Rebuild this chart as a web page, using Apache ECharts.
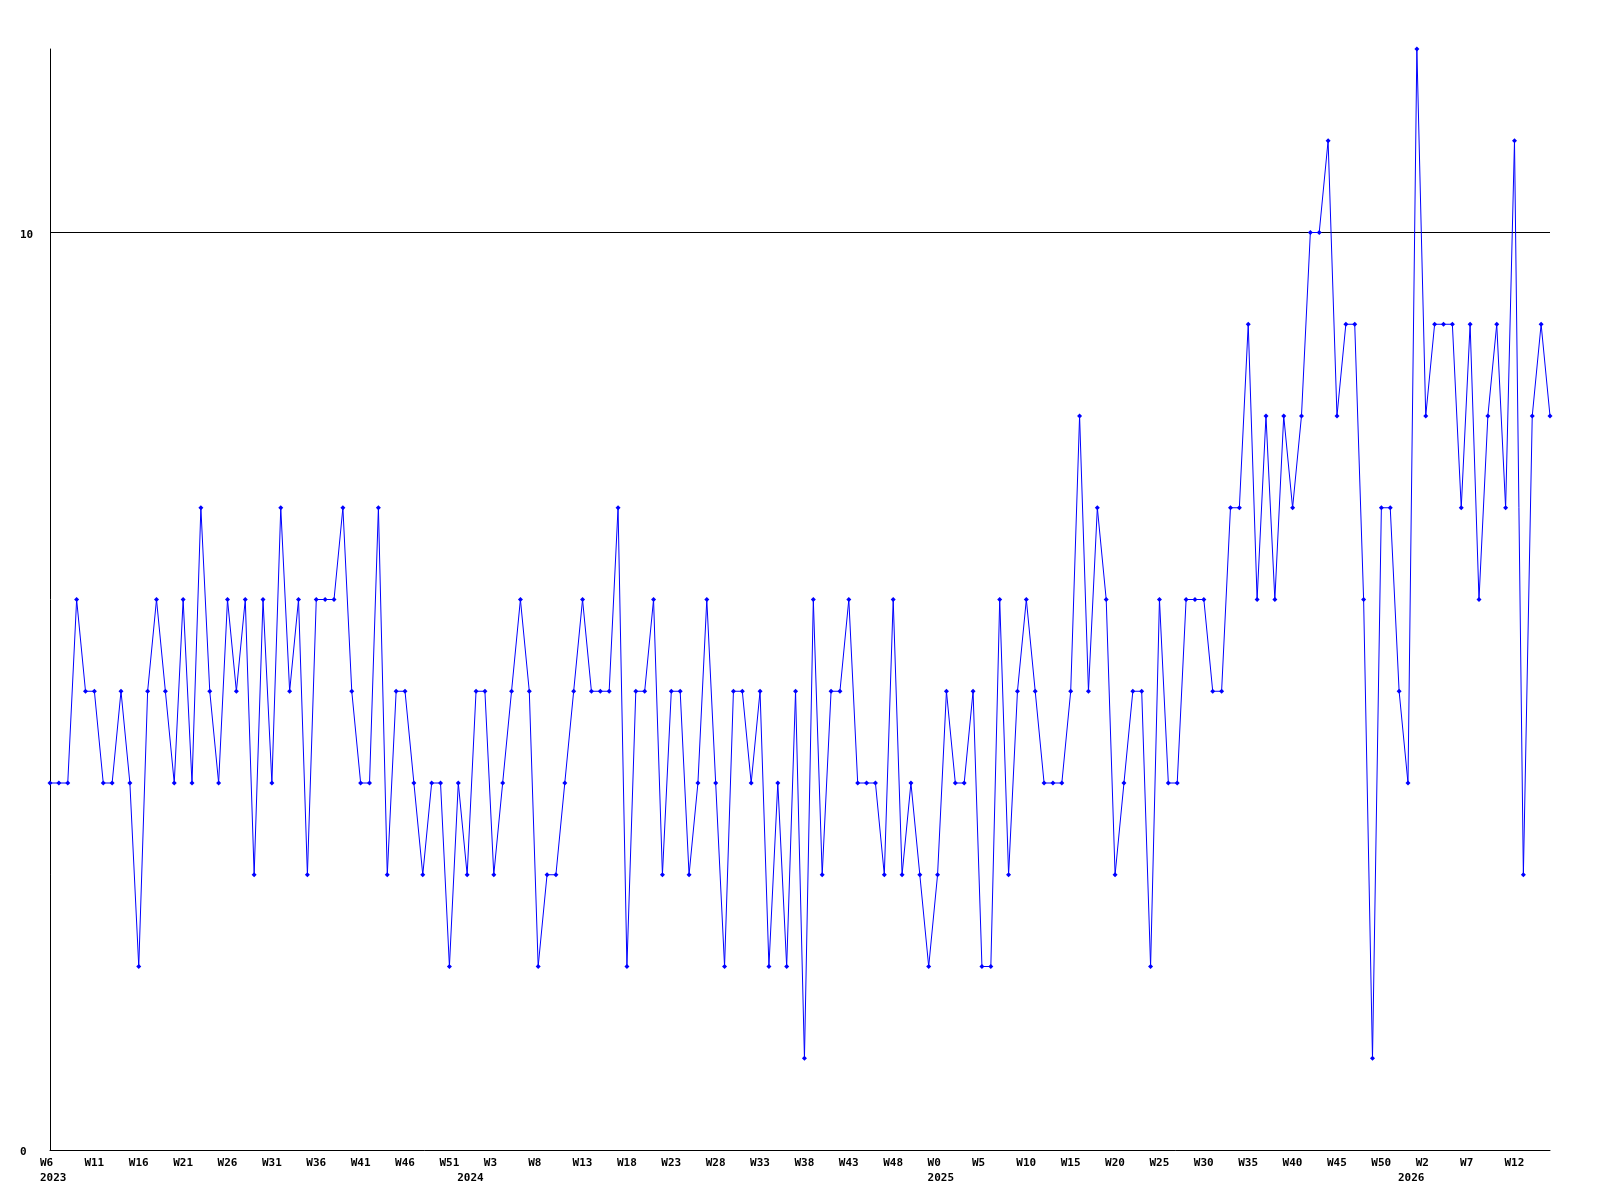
<!DOCTYPE html>
<html><head><meta charset="utf-8">
<script src="https://cdn.jsdelivr.net/npm/echarts@6/dist/echarts.min.js"></script>
<style>html,body{margin:0;padding:0;background:#fff}#c{width:1600px;height:1200px}</style>
</head><body><div id="c"></div>
<script>
// Week ranges per year (category labels)
const years = [2023, 2024, 2025, 2026];
const firstWeek = [6, 0, 0, 0];
const lastWeek = [52, 52, 52, 16];

// Weekly values
const values2023a = [4,4,4,6,5,5,4,4,5,4,2,5,6,5,4,6,4,7,5,4,6,5,6];
const values2023b = [3,6,4,7,5,6,3,6,6,6,7,5,4,4,7,3,5,5,4,3,4,4];
const valuesC = [2,4,3,5,5,3,4,5,6,5,2,3,3,4,5,6,5,5,5,7,2,5];
const valuesD = [5,6,3,5,5,3,4,6,4,2,5,5,4,5,2,4,2,5,1,6,3,5];
const valuesE = [5,6,4,4,4,3,6,3,4,3,2,3,5,4,4,5,2,2,6,3,5,6];
const valuesF = [5,4,4,4,5,8,5,7,6,3,4,5,5,2,6,4,4,6,6,6,5];
const valuesG = [5,7,7,9,6,8,6,8,7,8,10,10,11,8,9,9,6,1,7,7,5,4,12];
const valuesH = [8,9,9,9,7,9,6,8,9,7,11,3,8,9,8];
const values = [].concat(values2023a, values2023b, valuesC, valuesD, valuesE, valuesF, valuesG, valuesH);

const categories = [];
const yearStart = {};
years.forEach((y, i) => {
  for (let w = firstWeek[i]; w <= lastWeek[i]; w++) {
    if (w === firstWeek[i]) yearStart[categories.length] = y;
    categories.push(y + '-W' + w);
  }
});

const font = {fontFamily: 'DejaVu Sans Mono', fontWeight: 'bold', fontSize: 11, color: '#000'};
const chart = echarts.init(document.getElementById('c'));
chart.setOption({
  animation: false,
  grid: [
    {left: 50, top: 49, width: 1500, height: 1101},
    {left: 40, top: 49, width: 1500, height: 1101}
  ],
  xAxis: [
    {type: 'category', data: categories, boundaryGap: false,
     axisLine: {lineStyle: {color: '#000', width: 1}}, axisTick: {show: false},
     axisLabel: {show: false}, splitLine: {show: false}},
    {type: 'category', gridIndex: 1, data: categories, boundaryGap: false,
     axisLine: {show: false}, axisTick: {show: false}, splitLine: {show: false},
     axisLabel: Object.assign({}, font, {
       align: 'left', verticalAlign: 'top', margin: 6, lineHeight: 15,
       interval: (i) => i % 5 === 0 || yearStart[i] !== undefined,
       formatter: (v, i) => {
         const wk = (i % 5 === 0) ? v.split('-')[1] : '';
         return yearStart[i] !== undefined ? wk + '\n' + yearStart[i] : wk;
       }
     })}
  ],
  yAxis: [
    {type: 'value', min: 0, max: 12, interval: 10,
     axisLine: {show: true, lineStyle: {color: '#000', width: 1}}, axisTick: {show: false},
     axisLabel: Object.assign({}, font, {
       align: 'left', margin: 30, showMaxLabel: false,
       formatter: (v) => '{a|' + v + '}',
       rich: {a: Object.assign({}, font, {padding: [5, 0, 0, 0]})}
     }),
     splitLine: {show: true, showMinLine: false, showMaxLine: false, lineStyle: {color: '#000', width: 1}}},
    {type: 'value', gridIndex: 1, show: false, min: 0, max: 1}
  ],
  series: [{
    type: 'line', data: values, xAxisIndex: 0, yAxisIndex: 0,
    symbol: 'diamond', symbolSize: 5, showAllSymbol: true,
    itemStyle: {color: '#0000ff'}, lineStyle: {color: '#0000ff', width: 1}
  }]
});
</script>
</body></html>
